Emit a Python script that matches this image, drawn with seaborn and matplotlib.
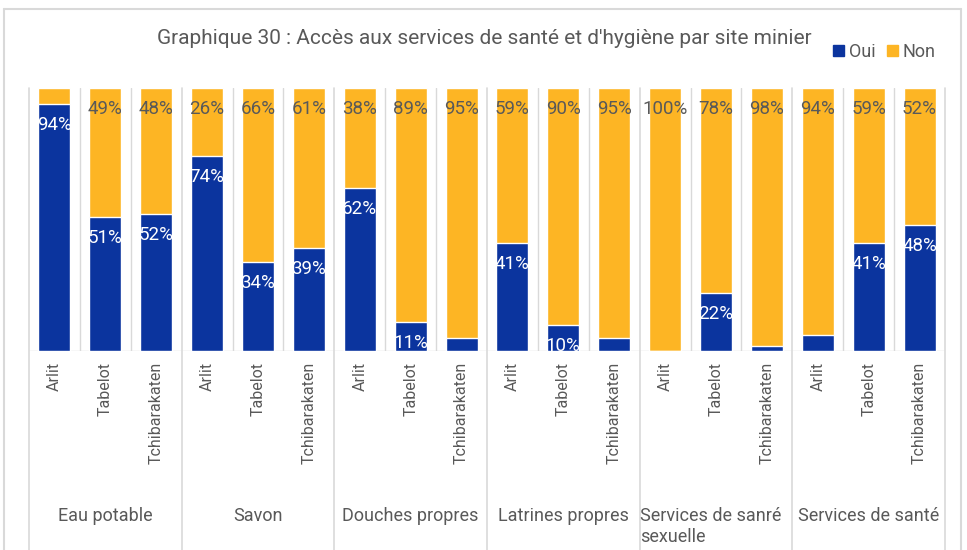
import numpy as np
import pandas as pd
import matplotlib
matplotlib.use("Agg")
import matplotlib.pyplot as plt
from matplotlib.lines import Line2D
from matplotlib.patches import Patch
import seaborn as sns

# data
groups = ["Eau potable", "Savon", "Douches propres", "Latrines propres",
          "Services de sanré\nsexuelle", "Services de santé"]
sites = ["Arlit", "Tabelot", "Tchibarakaten"]
oui = [94, 51, 52, 74, 34, 39, 62, 11, 5, 41, 10, 5, 0, 22, 2, 6, 41, 48]
non = [6, 49, 48, 26, 66, 61, 38, 89, 95, 59, 90, 95, 100, 78, 98, 94, 59, 52]

blue = "#0B349E"
orange = "#FDB524"
grid_c = "#D9D9D9"
text_c = "#595959"

df = pd.DataFrame({
    "bar": [f"{g}|{s}" for g in groups for s in sites],
    "site": sites * len(groups),
    "oui": oui,
    "non": non,
})
df["total"] = df["oui"] + df["non"]

sns.set_theme(style="white")
plt.rcParams["font.family"] = ["Roboto", "DejaVu Sans"]

fig = plt.figure(figsize=(9.67, 5.5), dpi=100)
ax = fig.add_axes([29 / 967, 1 - 351 / 550, 916 / 967, 263 / 550])

sns.barplot(data=df, x="bar", y="total", color=orange, width=0.63,
            saturation=1, ax=ax, order=df["bar"])
sns.barplot(data=df, x="bar", y="oui", color=blue, width=0.63,
            saturation=1, ax=ax, order=df["bar"])

n = len(df)
ax.set_xlim(-0.5, n - 0.5)
ax.set_ylim(0, 100)
ax.set_xlabel("")
ax.set_ylabel("")
ax.set_yticks([])
ax.set_xticks(range(n))
ax.set_xticklabels(df["site"], rotation=90, fontsize=11.5, color=text_c)
ax.tick_params(axis="x", length=0, pad=8)
for s in ax.spines.values():
    s.set_visible(False)
ax.axhline(0, color=grid_c, lw=1, zorder=0)

# separators between bars, longer ones between groups
for i in range(n + 1):
    if i % 3 == 0:
        ax.plot([i - 0.5, i - 0.5], [100, -76], color=grid_c, lw=1.2,
                zorder=0, clip_on=False)
    else:
        ax.plot([i - 0.5, i - 0.5], [0, 100], color=grid_c, lw=1, zorder=0)

# value labels
for i, row in df.iterrows():
    if row["oui"] >= 10:
        ax.text(i, row["oui"] - 8, f"{row['oui']}%", ha="center", va="center",
                color="white", fontsize=13.5)
    if row["non"] >= 10:
        ax.text(i, 100 - 8, f"{row['non']}%", ha="center", va="center",
                color=text_c, fontsize=13.5)

# group labels
for k, g in enumerate(groups):
    if "\n" in g:
        ax.text(3 * k - 0.5, -59.5, g, ha="left", va="top", fontsize=13,
                color=text_c, linespacing=1.15, clip_on=False)
    else:
        ax.text(3 * k + 1, -59.5, g, ha="center", va="top", fontsize=13,
                color=text_c, clip_on=False)

fig.text(484 / 967, 1 - 38 / 550,
         "Graphique 30 : Accès aux services de santé et d'hygiène par site minier",
         ha="center", va="center", fontsize=15, color=text_c)

handles = [Patch(color=blue, label="Oui"), Patch(color=orange, label="Non")]
fig.legend(handles=handles, loc="center right", ncol=2,
           bbox_to_anchor=(945 / 967, 1 - 52 / 550), frameon=False,
           fontsize=13, handlelength=0.6, handleheight=0.6,
           handletextpad=0.3, columnspacing=0.6, labelcolor=text_c,
           borderpad=0)

# outer frame
for xs, ys in [([4, 4], [0, 541]), ([4, 961], [541, 541]), ([961, 961], [0, 541])]:
    fig.add_artist(Line2D([x / 967 for x in xs], [y / 550 for y in ys],
                          color=grid_c, lw=1.5, transform=fig.transFigure))

fig.savefig("out.png", dpi=100, facecolor="white")
